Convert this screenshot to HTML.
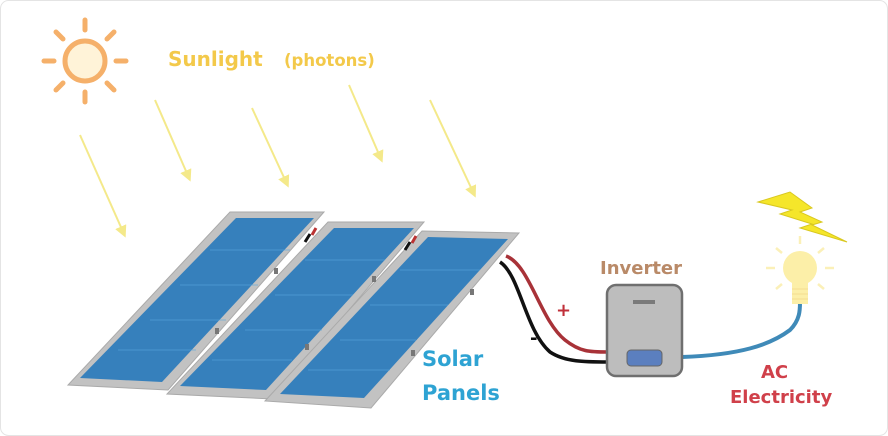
<!DOCTYPE html>
<html><head><style>
body{margin:0;background:#fff}
svg{display:block}
text{font-family:"DejaVu Sans","Liberation Sans",sans-serif;font-weight:bold}
</style></head><body>
<svg width="888" height="436" viewBox="0 0 888 436">
<rect x="0.5" y="0.5" width="887" height="435" rx="8" fill="#fff" stroke="#e4e4e4"/>
<!-- sun -->
<g stroke="#f5b06a" stroke-width="5" stroke-linecap="round" fill="none">
<circle cx="85" cy="61" r="20" fill="#fff3d8"/>
<line x1="85" y1="20" x2="85" y2="30"/><line x1="85" y1="92" x2="85" y2="102"/>
<line x1="44" y1="61" x2="54" y2="61"/><line x1="116" y1="61" x2="126" y2="61"/>
<line x1="56" y1="32" x2="63" y2="39"/><line x1="107" y1="83" x2="114" y2="90"/>
<line x1="114" y1="32" x2="107" y2="39"/><line x1="56" y1="90" x2="63" y2="83"/>
</g>
<text x="168" y="66" font-size="20" fill="#f3c94a">Sunlight</text>
<text x="284" y="66" font-size="16.5" fill="#f3c94a">(photons)</text>
<!-- arrows -->
<defs><marker id="a" markerWidth="6" markerHeight="6" refX="4" refY="3" orient="auto"><path d="M0,0 L6,3 L0,6 Z" fill="#f4e98a"/></marker></defs>
<g stroke="#f4e98a" stroke-width="2" marker-end="url(#a)">
<line x1="80" y1="135" x2="124" y2="234"/>
<line x1="155" y1="100" x2="189" y2="178"/>
<line x1="252" y1="108" x2="287" y2="184"/>
<line x1="349" y1="85" x2="381" y2="159"/>
<line x1="430" y1="100" x2="474" y2="194"/>
</g>
<!-- panels -->
<g>
<polygon points="230,212 324,212 168,390 68,385" fill="#c2c2c2" stroke="#aaa"/>
<polygon points="236,218 314,218 162,382 80,378" fill="#3680bc"/>
<polygon points="328,222 424,222 273,399 167,394" fill="#c2c2c2" stroke="#aaa"/>
<polygon points="334,228 414,228 266,390 180,386" fill="#3680bc"/>
<polygon points="422,231 519,233 371,408 265,401" fill="#c2c2c2" stroke="#aaa"/>
<polygon points="428,237 508,239 364,398 280,394" fill="#3680bc"/>
</g>
<g stroke="#5aa6de" stroke-width="1" opacity="0.6">
<line x1="210" y1="250" x2="290" y2="250"/><line x1="180" y1="285" x2="258" y2="285"/><line x1="150" y1="320" x2="226" y2="320"/><line x1="118" y1="350" x2="196" y2="350"/>
<line x1="305" y1="260" x2="385" y2="260"/><line x1="275" y1="295" x2="353" y2="295"/><line x1="245" y1="330" x2="322" y2="330"/><line x1="212" y1="360" x2="292" y2="360"/>
<line x1="400" y1="270" x2="480" y2="270"/><line x1="370" y1="305" x2="448" y2="305"/><line x1="340" y1="340" x2="416" y2="340"/><line x1="308" y1="370" x2="390" y2="370"/>
</g>
<!-- connectors -->
<g stroke-width="3" fill="none">
<path d="M305,242 l5,-8" stroke="#111"/><path d="M312,235 l4,-7" stroke="#b33"/>
<path d="M405,250 l5,-8" stroke="#111"/><path d="M412,243 l4,-7" stroke="#b33"/>
</g>
<g fill="#777"><rect x="274" y="268" width="4" height="6"/><rect x="215" y="328" width="4" height="6"/><rect x="372" y="276" width="4" height="6"/><rect x="305" y="344" width="4" height="6"/><rect x="470" y="289" width="4" height="6"/><rect x="411" y="350" width="4" height="6"/></g>
<!-- wires -->
<path d="M506,256 C530,265 540,320 565,340 C580,352 590,352 608,352" stroke="#a83238" stroke-width="3.5" fill="none"/>
<path d="M500,262 C520,275 525,330 550,352 C565,362 585,362 608,362" stroke="#111" stroke-width="3.5" fill="none"/>
<path d="M682,357 C740,355 770,345 790,330 C800,320 800,310 800,302" stroke="#3f8ab8" stroke-width="4" fill="none"/>
<text x="556" y="316" font-size="18" fill="#c0303a">+</text>
<text x="530" y="344" font-size="18" fill="#111">-</text>
<!-- inverter -->
<rect x="607" y="285" width="75" height="91" rx="9" fill="#bdbdbd" stroke="#6f6f6f" stroke-width="2.5"/>
<rect x="633" y="300" width="22" height="4" fill="#7a7a7a"/>
<rect x="627" y="350" width="35" height="16" rx="4" fill="#5b7fbf" stroke="#666"/>
<text x="600" y="274" font-size="18" fill="#b98a68">Inverter</text>
<!-- bulb -->
<g stroke="#fbf0b8" stroke-width="2.5">
<line x1="800" y1="236" x2="800" y2="244"/><line x1="766" y1="268" x2="775" y2="268"/><line x1="825" y1="268" x2="834" y2="268"/>
<line x1="776" y1="248" x2="782" y2="253"/><line x1="824" y1="248" x2="818" y2="253"/>
<line x1="776" y1="289" x2="782" y2="284"/><line x1="824" y1="289" x2="818" y2="284"/>
</g>
<circle cx="800" cy="268" r="17" fill="#fcefa8"/>
<rect x="792" y="280" width="16" height="24" fill="#fcefa8"/>
<g stroke="#f3dc90" stroke-width="1"><line x1="792" y1="289" x2="808" y2="289"/><line x1="792" y1="294" x2="808" y2="294"/><line x1="792" y1="299" x2="808" y2="299"/></g>
<polygon points="758,202 790,192 812,208 800,212 822,222 812,225 847,242 800,228 812,224 780,214 792,210" fill="#f5e62a" stroke="#d9c820"/>
<text x="422" y="366" font-size="21" fill="#2ea3d3">Solar</text>
<text x="422" y="400" font-size="21" fill="#2ea3d3">Panels</text>
<text x="761" y="378" font-size="18" fill="#d0404a">AC</text>
<text x="730" y="403" font-size="18" fill="#d0404a">Electricity</text>
</svg>
</body></html>
